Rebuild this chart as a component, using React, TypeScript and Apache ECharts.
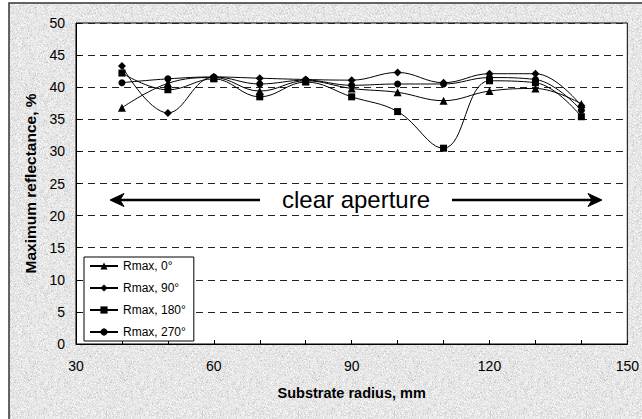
import React, { useEffect, useRef } from "react";
import * as echarts from "echarts";

// Substrate radius, mm
const radius = [40, 50, 60, 70, 80, 90, 100, 110, 120, 130, 140];

// Maximum reflectance, % for four azimuth angles
const rmax0 = [36.8, 40.6, 41.5, 39.4, 41.0, 39.8, 39.2, 37.9, 39.4, 39.8, 37.4];
const rmax90 = [43.3, 36.0, 41.6, 41.4, 41.2, 41.1, 42.3, 40.7, 42.1, 42.1, 37.1];
const rmax180 = [42.2, 39.6, 41.3, 38.5, 40.8, 38.5, 36.2, 30.5, 41.0, 40.7, 35.4];
const rmax270 = [40.7, 41.3, 41.6, 40.5, 41.1, 40.3, 40.5, 40.5, 41.5, 41.2, 36.4];

const seriesNames = ["Rmax, 0°", "Rmax, 90°", "Rmax, 180°", "Rmax, 270°"];
const seriesValues = [rmax0, rmax90, rmax180, rmax270];
const seriesSymbols = ["triangle", "diamond", "rect", "circle"];
const symbolSizes = [8, 8, 7, 7];

const xLabelValues = [30, 60, 90, 120, 150];
const annotationText = "clear aperture";

const FONT = "'Liberation Sans', Arial, sans-serif";

// Light speckled stone texture for the outer chart area
function makeTexture(): string {
  const size = 96;
  const c = document.createElement("canvas");
  c.width = size;
  c.height = size;
  const ctx = c.getContext("2d");
  if (!ctx) return "";
  const img = ctx.createImageData(size, size);
  let s = 12345;
  const next = () => {
    s = (s * 1103515245 + 12345) & 0x7fffffff;
    return s / 0x7fffffff;
  };
  for (let i = 0; i < size * size; i++) {
    const r = next();
    let v = 232;
    if (r < 0.12) v = 200 + Math.floor(next() * 20);
    else if (r < 0.35) v = 220 + Math.floor(next() * 10);
    else if (r > 0.85) v = 242 + Math.floor(next() * 10);
    img.data[i * 4] = v;
    img.data[i * 4 + 1] = v;
    img.data[i * 4 + 2] = v;
    img.data[i * 4 + 3] = 255;
  }
  ctx.putImageData(img, 0, 0);
  return c.toDataURL();
}

export default function App() {
  const ref = useRef<HTMLDivElement>(null);

  useEffect(() => {
    document.body.style.margin = "0";
    if (!ref.current) return;
    const chart = echarts.init(ref.current, undefined, { renderer: "svg" });
    const texture = makeTexture();

    const series = seriesNames.map((name, i) => ({
      name,
      type: "line",
      smooth: 0.4,
      symbol: seriesSymbols[i],
      symbolSize: symbolSizes[i],
      showAllSymbol: true,
      data: radius.map((r, j) => [r, seriesValues[i][j]]),
      lineStyle: { color: "#000", width: 1 },
      itemStyle: { color: "#000", borderColor: "#000", borderWidth: 0 },
      emphasis: { disabled: true },
      z: 3,
    }));

    const arrowY = 200;
    chart.setOption({
      animation: false,
      backgroundColor: "transparent",
      grid: {
        left: 76,
        right: 9,
        top: 23,
        bottom: 75,
        show: true,
        backgroundColor: "#fff",
        borderColor: "#000",
        borderWidth: 1,
      },
      legend: {
        orient: "vertical",
        left: 84,
        top: 257,
        data: seriesNames,
        backgroundColor: "#fff",
        borderColor: "#000",
        borderWidth: 1,
        borderRadius: 0,
        padding: [3, 8, 3, 5],
        itemWidth: 28,
        itemHeight: 9,
        itemGap: 10,
        selectedMode: false,
        textStyle: { fontFamily: FONT, fontSize: 12, color: "#000" },
        z: 5,
      },
      xAxis: {
        type: "value",
        min: 30,
        max: 150,
        interval: 10,
        name: "Substrate radius, mm",
        nameLocation: "middle",
        nameGap: 41,
        nameTextStyle: { fontFamily: FONT, fontSize: 14.5, fontWeight: "bold", color: "#000" },
        axisLine: { show: true, lineStyle: { color: "#000", width: 1 } },
        axisTick: { show: true, inside: true, length: 4, lineStyle: { color: "#000" } },
        axisLabel: {
          fontFamily: FONT,
          fontSize: 14,
          color: "#000",
          margin: 15,
          showMinLabel: true,
          showMaxLabel: true,
          formatter: (v: number) => (xLabelValues.includes(v) ? String(v) : ""),
        },
        splitLine: { show: false },
      },
      yAxis: {
        type: "value",
        min: 0,
        max: 50,
        interval: 5,
        name: "Maximum reflectance, %",
        nameLocation: "middle",
        nameGap: 37,
        nameRotate: 90,
        nameTextStyle: { fontFamily: FONT, fontSize: 15.5, fontWeight: "bold", color: "#000" },
        axisLine: { show: true, lineStyle: { color: "#000", width: 1 } },
        axisTick: { show: true, inside: true, length: 5, lineStyle: { color: "#000" } },
        axisLabel: { fontFamily: FONT, fontSize: 14, color: "#000", margin: 11 },
        splitLine: {
          show: true,
          lineStyle: { color: "#222", width: 1, type: [7, 5] },
        },
      },
      series,
      graphic: [
        {
          type: "rect",
          z: -100,
          silent: true,
          shape: { x: 9, y: 3, width: 700, height: 500 },
          style: {
            fill: texture ? { image: texture, repeat: "repeat" } : "#e6e6e6",
            stroke: "#333",
            lineWidth: 1.5,
          },
        },
        {
          type: "line",
          z: 4,
          silent: true,
          shape: { x1: 116, y1: arrowY, x2: 260, y2: arrowY },
          style: { stroke: "#000", lineWidth: 2.5 },
        },
        {
          type: "polygon",
          z: 4,
          silent: true,
          shape: {
            points: [
              [110, arrowY],
              [124, arrowY - 6.5],
              [120, arrowY],
              [124, arrowY + 6.5],
            ],
          },
          style: { fill: "#000", stroke: "#000", lineWidth: 1 },
        },
        {
          type: "line",
          z: 4,
          silent: true,
          shape: { x1: 452, y1: arrowY, x2: 596, y2: arrowY },
          style: { stroke: "#000", lineWidth: 2.5 },
        },
        {
          type: "polygon",
          z: 4,
          silent: true,
          shape: {
            points: [
              [602, arrowY],
              [588, arrowY - 6.5],
              [592, arrowY],
              [588, arrowY + 6.5],
            ],
          },
          style: { fill: "#000", stroke: "#000", lineWidth: 1 },
        },
        {
          type: "text",
          z: 4,
          silent: true,
          x: 356,
          y: arrowY - 1,
          style: {
            text: annotationText,
            fontFamily: FONT,
            fontSize: 24,
            fill: "#000",
            align: "center",
            verticalAlign: "middle",
          },
        },
      ],
    });

    return () => chart.dispose();
  }, []);

  return <div ref={ref} style={{ width: 642, height: 419 }} />;
}
